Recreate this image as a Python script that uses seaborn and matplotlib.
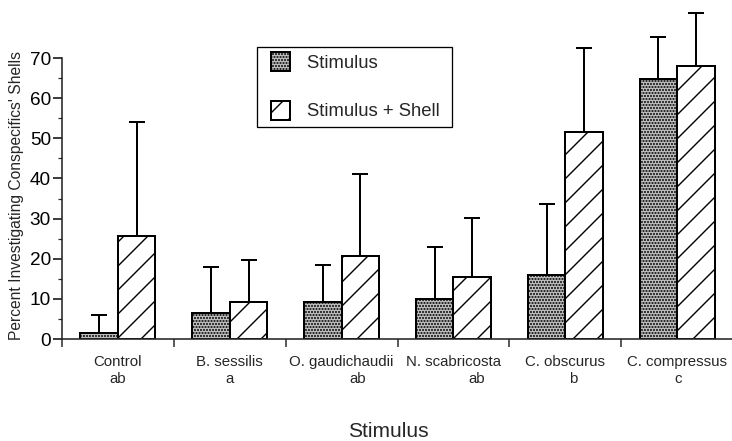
import numpy as np
import pandas as pd
import matplotlib
matplotlib.use("Agg")
import matplotlib.pyplot as plt
from matplotlib.patches import Rectangle
from matplotlib.legend_handler import HandlerPatch
import seaborn as sns

# Mean percent of snails investigating conspecifics' shells, per stimulus
stimuli = ["Control", "B. sessilis", "O. gaudichaudii", "N. scabricosta",
           "C. obscurus", "C. compressus"]
groups = ["ab", "a", "ab", "ab", "b", "c"]
treatments = ["Stimulus", "Stimulus + Shell"]
stimulus_mean = [1.4, 6.4, 9.1, 9.9, 15.9, 64.8]
stimulus_sd = [4.6, 11.6, 9.3, 13.1, 17.7, 10.5]
shell_mean = [25.7, 9.3, 20.7, 15.5, 51.5, 68.1]
shell_sd = [28.4, 10.4, 20.3, 14.7, 21.0, 13.1]
y_ticks = [0, 10, 20, 30, 40, 50, 60, 70]

df = pd.DataFrame({
    "Stimulus": stimuli * 2,
    "Treatment": [treatments[0]] * len(stimuli) + [treatments[1]] * len(stimuli),
    "Percent": stimulus_mean + shell_mean,
})

sns.set_style("ticks")
plt.rcParams["font.family"] = ["Liberation Sans", "DejaVu Sans"]
plt.rcParams["hatch.linewidth"] = 1.4

W, H = 732, 441
fig = plt.figure(figsize=(W / 72, H / 72), dpi=72)
ax = fig.add_axes([62 / W, 102 / H, 670 / W, 339 / H])

sns.barplot(data=df, x="Stimulus", y="Percent", hue="Treatment",
            order=stimuli, hue_order=treatments, width=0.67, errorbar=None,
            palette=["#bcbcbc", "white"], saturation=1, ax=ax,
            edgecolor="black", linewidth=2.0, legend=False)

# Stippled grey fill for stimulus alone, diagonal hatch for stimulus + shell
for bar in ax.containers[0]:
    bar.set_hatch("....")
for bar in ax.containers[1]:
    bar.set_hatch("/")

# One-sided (upper) SD error bars
for cont, means, sds in zip(ax.containers, [stimulus_mean, shell_mean],
                            [stimulus_sd, shell_sd]):
    xs = [b.get_x() + b.get_width() / 2 for b in cont]
    ax.errorbar(xs, means, yerr=[np.zeros(len(sds)), sds], fmt="none",
                ecolor="black", elinewidth=2.0, capsize=8, capthick=2.0,
                clip_on=False, zorder=3)

ax.set_xlim(-0.5, 5.49)
ax.set_ylim(0, 84.45)
ax.spines["top"].set_visible(False)
ax.spines["right"].set_visible(False)
ax.spines["left"].set_bounds(0, 70)
ax.spines["left"].set_linewidth(1.6)
ax.spines["bottom"].set_linewidth(1.6)

ax.set_yticks(y_ticks)
ax.set_yticks(np.arange(5, 70, 10), minor=True)
ax.tick_params(axis="y", which="major", length=9, width=1.5, pad=2,
               labelsize=19, colors="black")
ax.tick_params(axis="y", which="minor", length=4, width=1.2)

ax.set_xticks(np.arange(len(stimuli)) - 0.5)
ax.set_xticklabels([])
ax.tick_params(axis="x", which="major", length=8, width=1.5)

# Category names with significance groups beneath them
letter_shift = [0.0, 0.0, 0.14, 0.21, 0.07, 0.01]
trans = ax.get_xaxis_transform()
for i, (name, grp) in enumerate(zip(stimuli, groups)):
    ax.text(i, -0.068, name, transform=trans, ha="center", va="center",
            fontsize=15)
    ax.text(i + letter_shift[i], -0.117, grp, transform=trans, ha="center",
            va="center", fontsize=15)

ax.set_xlabel("Stimulus", fontsize=21)
ax.xaxis.label.set_va("center")
ax.xaxis.set_label_coords(0.487, -0.274)
ax.set_ylabel("Percent Investigating Conspecifics' Shells", fontsize=15.6)
ax.yaxis.label.set_va("center")
ax.yaxis.set_label_coords(-0.068, 0.422)


def square_key(legend, orig_handle, xdescent, ydescent, width, height,
               fontsize):
    # square swatch pushed to the right end of the handle box
    side = 19
    return Rectangle((-xdescent + width - side, -ydescent + (height - side) / 2),
                     side, side)


leg = ax.legend(handles=[ax.containers[0][0], ax.containers[1][0]],
                labels=[t + " " for t in treatments],
                handler_map={Rectangle: HandlerPatch(patch_func=square_key)},
                loc="upper left", bbox_to_anchor=(257 / W, 1 - 47 / H),
                bbox_transform=fig.transFigure, fontsize=18.5, frameon=True,
                fancybox=False, edgecolor="black", framealpha=1,
                handlelength=1.4, handleheight=1.0, handletextpad=0.95,
                labelspacing=1.6, borderpad=0.36, borderaxespad=0)
leg.get_frame().set_linewidth(1.3)

fig.savefig("out.png", dpi=72)
